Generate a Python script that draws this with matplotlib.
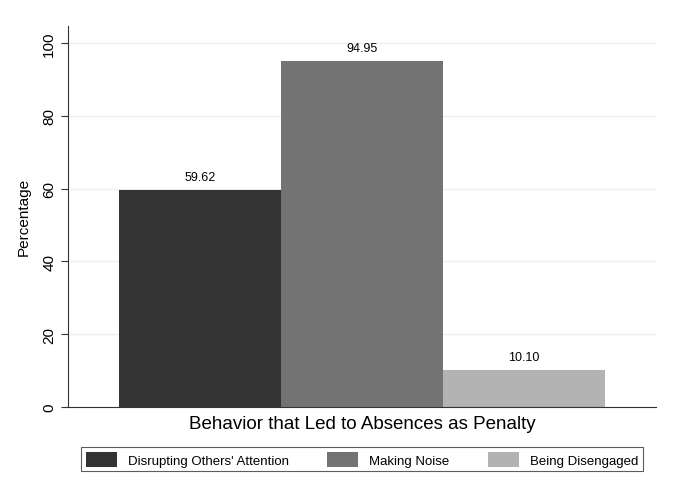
import matplotlib.pyplot as plt
from matplotlib.patches import Patch

categories = ["Disrupting Others' Attention", "Making Noise", "Being Disengaged"]
values = [59.62, 94.95, 10.10]
colors = ['#333333', '#737373', '#b3b3b3']
yticks = [0, 20, 40, 60, 80, 100]

plt.rcParams['font.family'] = ['Liberation Sans', 'DejaVu Sans']

fig = plt.figure(figsize=(6.73, 4.81), dpi=100)
ax = fig.add_axes([0.101, 0.152, 0.874, 0.792])

xs = range(len(values))
ax.bar(xs, values, width=1.0, color=colors, zorder=2)
for x, v in zip(xs, values):
    ax.text(x, v + 2, f'{v:.2f}', ha='center', va='bottom', fontsize=9)

ax.set_xlim(-0.815, 2.815)
ax.set_ylim(0, 104.7)
ax.set_yticks(yticks)
ax.set_yticklabels([str(t) for t in yticks], rotation=90, va='center', fontsize=11)
ax.set_xticks([])
ax.grid(axis='y', color='#eeeeee', linewidth=1, zorder=0)
for s in ['top', 'right']:
    ax.spines[s].set_visible(False)
ax.spines['left'].set_color('#333333')
ax.spines['bottom'].set_color('#333333')
ax.tick_params(axis='y', length=5, color='#333333')

ax.set_ylabel('Percentage', fontsize=11, labelpad=8)
ax.set_xlabel('Behavior that Led to Absences as Penalty', fontsize=13.5, labelpad=6)

handles = [Patch(facecolor=c, edgecolor='none') for c in colors]
leg = fig.legend(handles, categories, loc='center', ncol=3,
                 bbox_to_anchor=(0.538, 0.043), fontsize=9.5, frameon=True,
                 fancybox=False, edgecolor='#333333', handlelength=2.35,
                 handleheight=1.35, columnspacing=2.9, borderpad=0.35,
                 handletextpad=0.85, borderaxespad=0)
leg.get_frame().set_linewidth(0.8)

fig.savefig('out.png', dpi=100)
